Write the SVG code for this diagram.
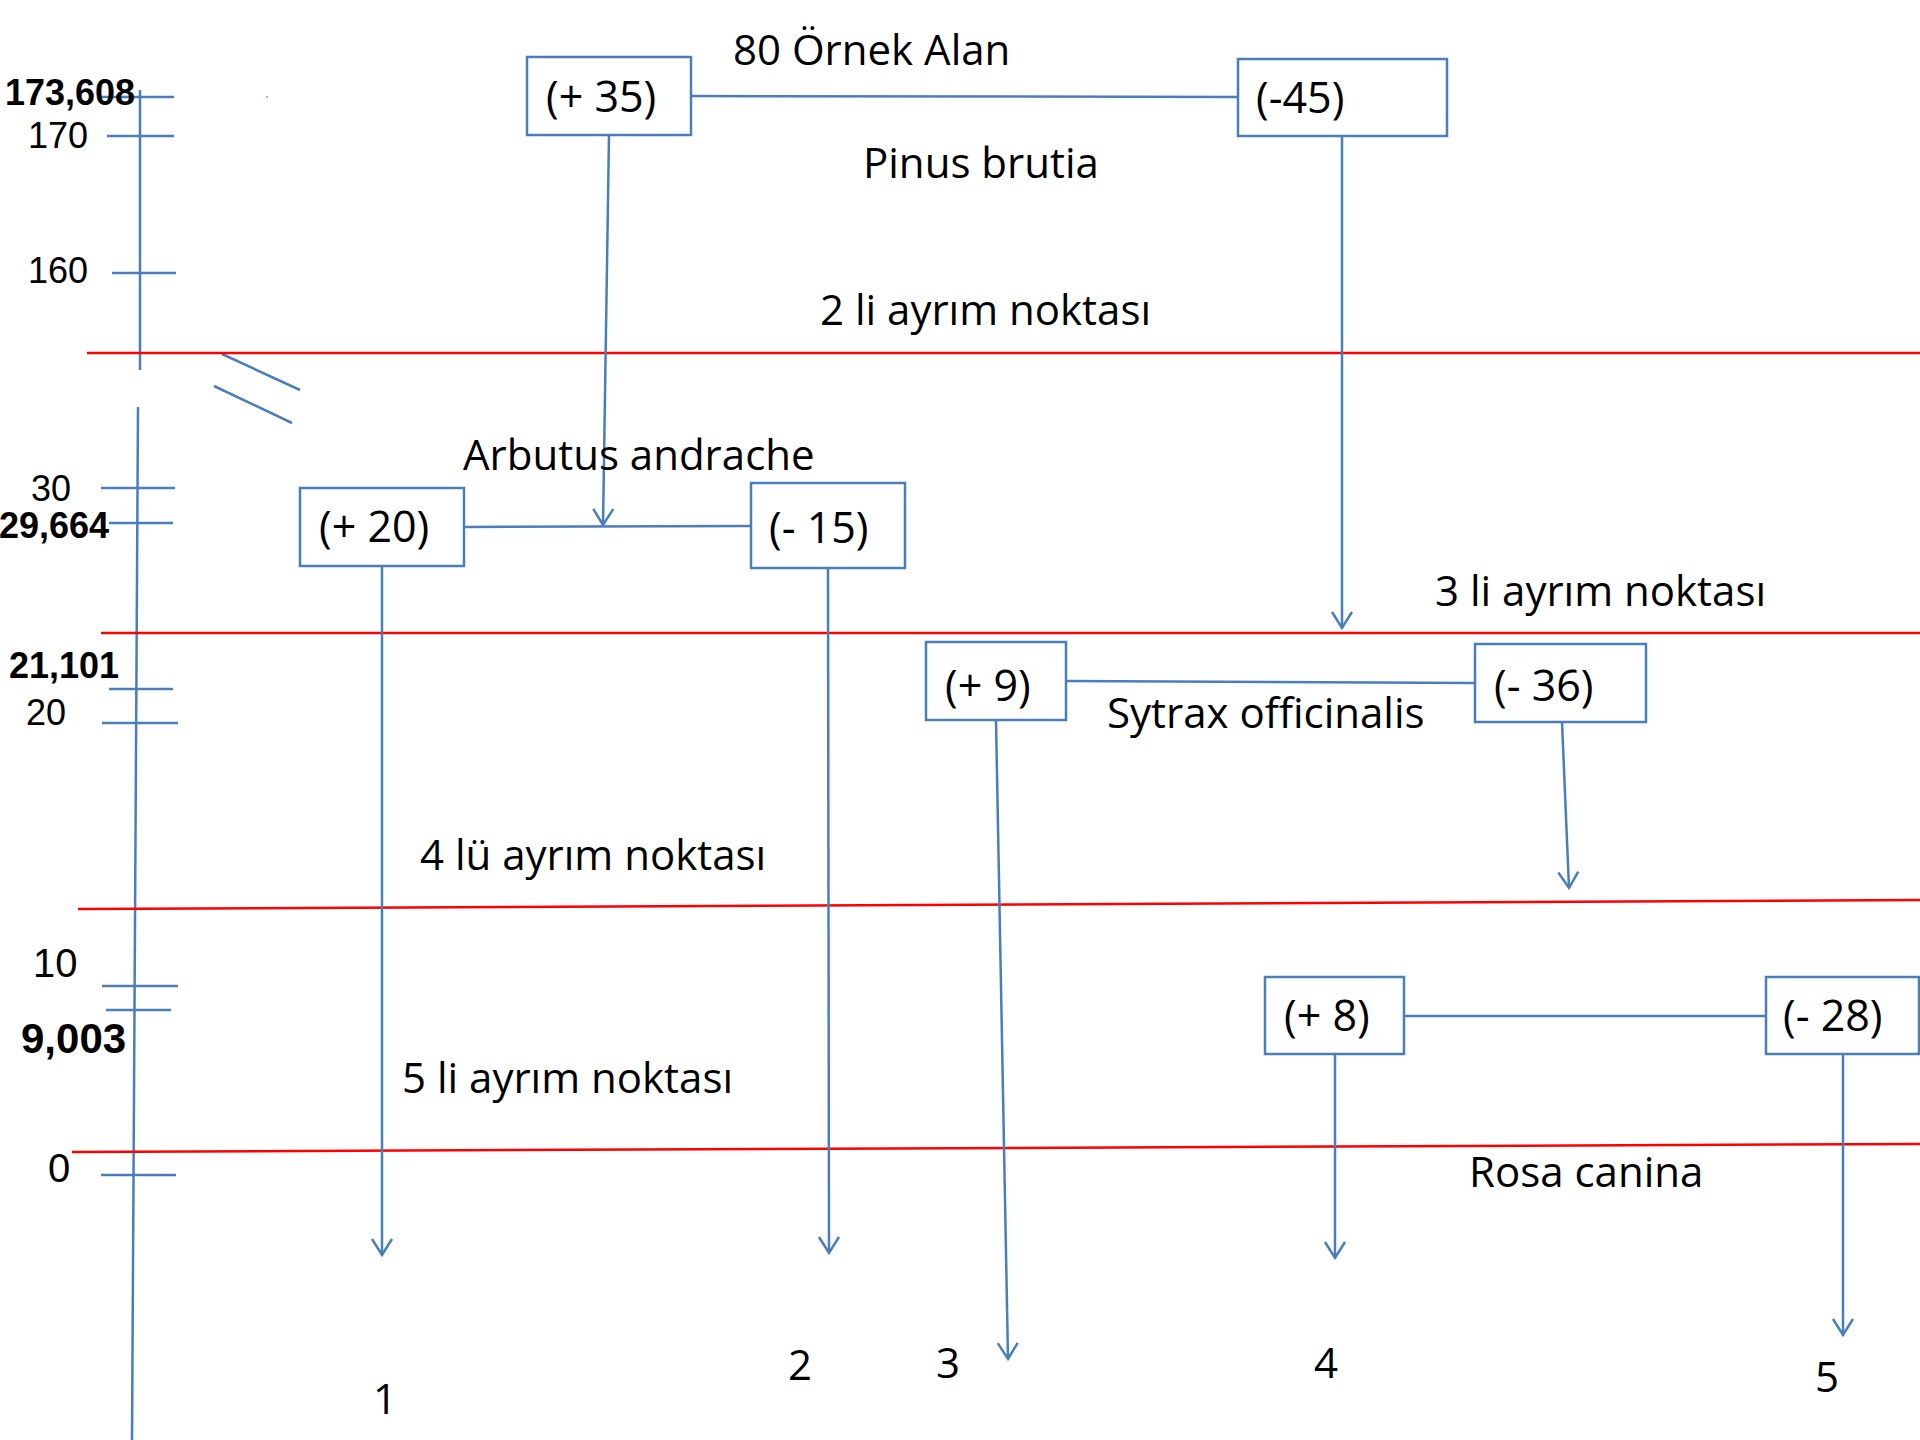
<svg xmlns="http://www.w3.org/2000/svg" width="1920" height="1440" viewBox="0 0 1920 1440">
<defs>
<style>
.box{fill:#fff;stroke:#4A7EBB;stroke-width:2.5}
.bl{stroke:#4A7EBB;stroke-width:2.5;fill:none}
.red{stroke:#FF0000;stroke-width:2.5;fill:none}
.t{font-family:"Open Sans","Noto Sans",sans-serif;font-size:42px;fill:#000}
.bt{font-family:"Open Sans","Noto Sans",sans-serif;font-size:43px;fill:#000}
.ax{font-family:"Liberation Sans",Arial,sans-serif;font-size:36px;fill:#000}
.axb{font-family:"Liberation Sans",Arial,sans-serif;font-size:36px;font-weight:bold;fill:#000}
</style>
<marker id="arr" markerUnits="userSpaceOnUse" orient="auto" markerWidth="30" markerHeight="30" refX="0" refY="0" viewBox="-20 -15 25 30" overflow="visible">
<path d="M-16,-10 L0,0 L-16,10" fill="none" stroke="#4A7EBB" stroke-width="2.5"/>
</marker>
</defs>
<rect width="1920" height="1440" fill="#fff"/>

<g id="axis">
<line class="bl" x1="140" y1="90" x2="140" y2="370"/>
<line class="bl" x1="138" y1="407" x2="132" y2="1440"/>
<line class="bl" x1="99" y1="97" x2="174" y2="97"/>
<line class="bl" x1="107" y1="136" x2="174" y2="136"/>
<line class="bl" x1="112" y1="273" x2="176" y2="273"/>
<line class="bl" x1="101" y1="488" x2="175" y2="488"/>
<line class="bl" x1="109" y1="523" x2="173" y2="523"/>
<line class="bl" x1="109" y1="689" x2="173" y2="689"/>
<line class="bl" x1="102" y1="723" x2="178" y2="723"/>
<line class="bl" x1="102" y1="986" x2="178" y2="986"/>
<line class="bl" x1="106" y1="1010" x2="171" y2="1010"/>
<line class="bl" x1="101" y1="1175" x2="176" y2="1175"/>
<line class="bl" x1="222" y1="354" x2="300" y2="390"/>
<line class="bl" x1="214" y1="386" x2="292" y2="423"/>
<line stroke="#4A7EBB" stroke-width="1" x1="267" y1="96" x2="267" y2="98"/>
<text class="axb" x="5" y="105">173,608</text>
<text class="ax" x="28" y="148">170</text>
<text class="ax" x="28" y="283">160</text>
<text class="ax" x="31" y="501">30</text>
<text class="axb" x="-1" y="538">29,664</text>
<text class="axb" x="9" y="678">21,101</text>
<text class="ax" x="26" y="725">20</text>
<text class="ax" x="33" y="977" style="font-size:40px">10</text>
<text class="axb" x="21" y="1053" style="font-size:42px">9,003</text>
<text class="ax" x="48" y="1182" style="font-size:40px">0</text>
</g>

<g id="splits">
<line class="red" x1="87" y1="353" x2="1920" y2="353"/>
<line class="red" x1="101" y1="633" x2="1920" y2="633"/>
<line class="red" x1="78" y1="909" x2="1920" y2="900"/>
<line class="red" x1="72" y1="1152" x2="1920" y2="1144"/>
</g>

<g id="connectors">
<line class="bl" x1="691" y1="96" x2="1238" y2="97"/>
<line class="bl" x1="609" y1="135" x2="603" y2="525" marker-end="url(#arr)"/>
<line class="bl" x1="1342" y1="136" x2="1342" y2="628" marker-end="url(#arr)"/>
<line class="bl" x1="464" y1="527" x2="751" y2="526"/>
<line class="bl" x1="382" y1="566" x2="382" y2="1255" marker-end="url(#arr)"/>
<line class="bl" x1="828" y1="568" x2="829" y2="1253" marker-end="url(#arr)"/>
<line class="bl" x1="1066" y1="681" x2="1475" y2="683"/>
<line class="bl" x1="996" y1="720" x2="1008" y2="1359" marker-end="url(#arr)"/>
<line class="bl" x1="1562" y1="722" x2="1569" y2="888" marker-end="url(#arr)"/>
<line class="bl" x1="1404" y1="1016" x2="1766" y2="1016"/>
<line class="bl" x1="1335" y1="1054" x2="1335" y2="1258" marker-end="url(#arr)"/>
<line class="bl" x1="1843" y1="1054" x2="1843" y2="1335" marker-end="url(#arr)"/>
</g>

<g id="n-p35"><rect class="box" x="527" y="57" width="164" height="78"/><text class="bt" x="546" y="112">(+ 35)</text></g>
<g id="n-m45"><rect class="box" x="1238" y="59" width="209" height="77"/><text class="bt" x="1256" y="113">(-45)</text></g>
<g id="n-p20"><rect class="box" x="300" y="488" width="164" height="78"/><text class="bt" x="319" y="542">(+ 20)</text></g>
<g id="n-m15"><rect class="box" x="751" y="483" width="154" height="85"/><text class="bt" x="769" y="543">(- 15)</text></g>
<g id="n-p9"><rect class="box" x="926" y="642" width="140" height="78"/><text class="bt" x="945" y="701">(+ 9)</text></g>
<g id="n-m36"><rect class="box" x="1475" y="644" width="171" height="78"/><text class="bt" x="1494" y="701">(- 36)</text></g>
<g id="n-p8"><rect class="box" x="1265" y="977" width="139" height="77"/><text class="bt" x="1284" y="1031">(+ 8)</text></g>
<g id="n-m28"><rect class="box" x="1766" y="977" width="153" height="77"/><text class="bt" x="1783" y="1031">(- 28)</text></g>

<g id="labels">
<text class="t" x="733" y="65">80 Örnek Alan</text>
<text class="t" x="863" y="178">Pinus brutia</text>
<text class="t" x="820" y="325">2 li ayrım noktası</text>
<text class="t" x="463" y="470">Arbutus andrache</text>
<text class="t" x="1435" y="606">3 li ayrım noktası</text>
<text class="t" x="1107" y="728">Sytrax officinalis</text>
<text class="t" x="420" y="870">4 lü ayrım noktası</text>
<text class="t" x="402" y="1093">5 li ayrım noktası</text>
<text class="t" x="1469" y="1187">Rosa canina</text>
<text class="t" x="373" y="1414">1</text>
<text class="t" x="788" y="1380">2</text>
<text class="t" x="936" y="1378">3</text>
<text class="t" x="1314" y="1378">4</text>
<text class="t" x="1815" y="1392">5</text>
</g>
</svg>
